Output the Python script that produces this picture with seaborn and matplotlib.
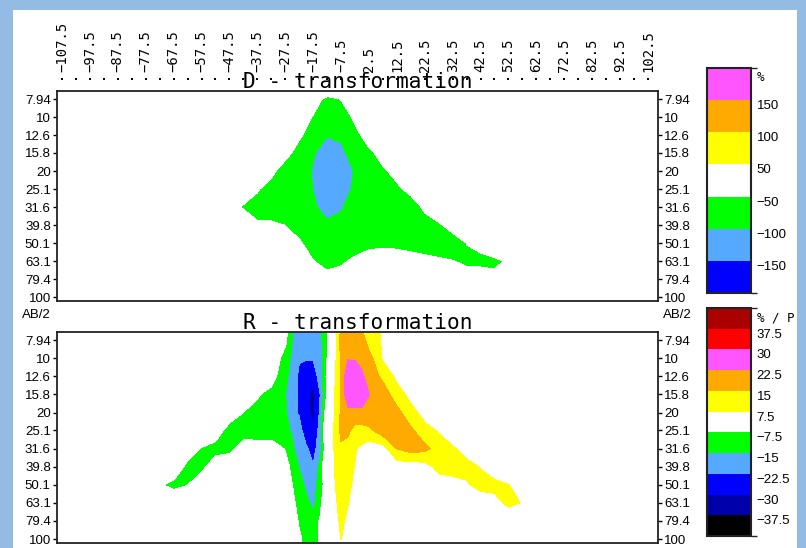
import numpy as np
import matplotlib
matplotlib.use('Agg')
import matplotlib.pyplot as plt
import seaborn as sns
from matplotlib.colors import ListedColormap, BoundaryNorm
from matplotlib.cm import ScalarMappable
from matplotlib.patches import Rectangle
from matplotlib.ticker import NullLocator

# ---------------------------------------------------------------|
# data
# ---------------------------------------------------------------|
# AB/2 rows (first and last row sit just outside the shown range)
ab2 = [7.08, 7.94, 10, 12.6, 15.8, 20, 25.1, 31.6, 39.8, 50.1, 63.1, 79.4, 100, 105.9]
ab2_ticks = [7.94, 10, 12.6, 15.8, 20, 25.1, 31.6, 39.8, 50.1, 63.1, 79.4, 100]
ab2_labels = ['7.94', '10', '12.6', '15.8', '20', '25.1', '31.6', '39.8', '50.1', '63.1', '79.4', '100']

# profile positions written over the top section
pos_major = [-107.5, -97.5, -87.5, -77.5, -67.5, -57.5, -47.5, -37.5, -27.5, -17.5, -7.5,
             2.5, 12.5, 22.5, 32.5, 42.5, 52.5, 62.5, 72.5, 82.5, 92.5, 102.5]
pos_labels = ['\u2212107.5', '\u221297.5', '\u221287.5', '\u221277.5', '\u221267.5', '\u221257.5',
              '\u221247.5', '\u221237.5', '\u221227.5', '\u221217.5', '\u22127.5',
              '2.5', '12.5', '22.5', '32.5', '42.5', '52.5', '62.5', '72.5', '82.5', '92.5', '102.5']
pos_minor = [-102.5, -92.5, -82.5, -72.5, -62.5, -52.5, -42.5, -32.5, -22.5, -12.5, -2.5,
             7.5, 17.5, 27.5, 37.5, 47.5, 57.5, 67.5, 77.5, 87.5, 97.5, 107.5]

# D - transformation, % (columns -52.5 ... 57.5 step 5)
d_x = [-52.5, -47.5, -42.5, -37.5, -32.5, -27.5, -22.5, -17.5, -12.5, -7.5, -2.5, 2.5,
       7.5, 12.5, 17.5, 22.5, 27.5, 32.5, 37.5, 42.5, 47.5, 52.5, 57.5]
d_pct = [
    [0] * 23,
    [0, 0, 0, 0, 0, 0, 0, -15, -70, -48, -20, 0, 0, 0, 0, 0, 0, 0, 0, 0, 0, 0, 0],
    [0, 0, 0, 0, 0, 0, -12, -55, -85, -80, -40, 0, 0, 0, 0, 0, 0, 0, 0, 0, 0, 0, 0],
    [0, 0, 0, 0, 0, -10, -40, -80, -98, -90, -65, -28, 0, 0, 0, 0, 0, 0, 0, 0, 0, 0, 0],
    [0, 0, 0, 0, -5, -28, -75, -95, -125, -115, -71, -60, -32, 0, 0, 0, 0, 0, 0, 0, 0, 0, 0],
    [0, 0, 0, -8, -33, -85, -60, -106, -135, -130, -96, -80, -58, -35, 0, 0, 0, 0, 0, 0, 0, 0, 0],
    [0, 0, -15, -43, -80, -85, -73, -101, -135, -130, -88, -80, -70, -60, -34, 0, 0, 0, 0, 0, 0, 0, 0],
    [0, -31, -56, -80, -85, -90, -85, -92, -120, -105, -77, -80, -82, -82, -80, -39, 0, 0, 0, 0, 0, 0, 0],
    [0, 0, 0, -38, -38, -51, -70, -85, -90, -85, -80, -80, -80, -80, -80, -75, -60, -22, 0, 0, 0, 0, 0],
    [0, 0, 0, -5, -15, -30, -43, -75, -85, -85, -73, -66, -62, -64, -67, -66, -68, -87, -49, -39, -30, 0, 0],
    [0, 0, 0, 0, 0, -10, -30, -48, -75, -58, -40, -20, -15, -20, -30, -40, -45, -48, -60, -60, -55, -47, -5],
    [0, 0, 0, 0, 0, 0, 0, 0, -23, -25, 0, 0, 0, 0, 0, 0, 0, 0, -24, -27, -43, -20, 0],
    [0] * 23,
    [0] * 23,
]

# R - transformation, % / P
r_x = [-77.5, -72.5, -67.5, -62.5, -57.5, -52.5, -47.5, -42.5, -37.5, -32.5, -27.5,
       -25, -22.5, -20, -17.5, -15, -12.5, -10, -7.5, -5, -2.5, 0, 2.5,
       7.5, 12.5, 17.5, 22.5, 27.5, 32.5, 37.5, 42.5, 47.5, 52.5, 57.5, 62.5]
r_pct = [
    [0, 0, 0, 0, 0, 0, 0, 0, 0, -2, -5,
     -14.8, -17, -19, -20, -17.3, -8.8, 1.3, 17.3, 20, 20, 15.1, 12,
     6.3, 3, 0, 0, 0, 0, 0, 0, 0, 0, 0, 0],
    [0, 0, 0, 0, 0, 0, 0, 0, 0, -3, -5,
     -14.9, -18, -20, -21, -17.3, -8.6, 1.5, 17.5, 21, 21, 19, 11.2,
     6.8, 3, 0, 0, 0, 0, 0, 0, 0, 0, 0, 0],
    [0, 0, 0, 0, 0, 0, 0, 0, 0, 1, -12,
     -16, -21.5, -22, -22, -20, -7.4, 3.7, 16.9, 22, 22, 20, 18.5,
     6.4, 3, 0, 0, 0, 0, 0, 0, 0, 0, 0, 0],
    [0, 0, 0, 0, 0, 0, 0, 0, 0, -2.9, -14.7,
     -15.4, -25, -27, -27, -19.2, -5.3, 5.1, 16.6, 28, 27, 24, 19,
     13.4, 5.6, 2, 0, 0, 0, 0, 0, 0, 0, 0, 0],
    [0, 0, 0, 0, 0, 0, 0, -2, -6.3, -11, -14.9,
     -16.7, -25.1, -28, -33, -22.6, -6, 6.8, 16.3, 28, 28, 27, 22.6,
     19, 11, 4.9, 2, 0, 0, 0, 0, 0, 0, 0, 0],
    [0, 0, 0, 0, 0, 0, -3, -7.6, -11, -12, -13.1,
     -21.4, -23, -27, -32.5, -21, -1, 7.2, 16.3, 20, 20, 20.5, 21,
     20, 17.5, 10.4, 4.6, 2, 0, 0, 0, 0, 0, 0, 0],
    [0, 0, 0, 0, 0, -3, -11, -11, -12, -12, -13,
     -15.9, -20, -26.1, -29, -19.3, 5.8, 7.8, 17, 16.5, 12.3, 12, 13,
     19.3, 18, 16.5, 10.25, 6.7, 2, 0, 0, 0, 0, 0, 0],
    [0, 0, 0, -3, -8, -10.6, -10, -3.9, -3, -3, -8,
     -13, -20.7, -21.5, -25.2, -18.6, 0, 7.6, 13.5, 12, 8, 6, 3,
     4, 15.2, 18, 17, 12, 8.5, 4.3, 2, 0, 0, 0, 0],
    [0, 0, -0.7, -10, -10, -2.2, 0, 0, 0, 0, -3,
     -10.4, -15.3, -19, -22, -12.5, 2, 7.3, 10, 9, 7.3, 4, 2,
     3, 3, 3, 4, 10.1, 11, 10, 7.1, 3, 0, 0, 0],
    [0, -6.6, -10, -7.7, -1, 0, 0, 0, 0, 0, -2,
     -7.4, -12, -16.5, -17, -13, 0, 7.2, 9, 8.5, 6.5, 3, 2,
     2, 2, 2, 2, 3, 4, 6.5, 10.2, 9.5, 7.7, 2, 0],
    [0, 0, 0, 0, 0, 0, 0, 0, 0, 0, 0,
     -5, -10.8, -13, -17, -9.5, 0, 4, 12.1, 7.8, 4, 2, 0,
     0, 0, 0, 0, 0, 0, 0, 2, 5, 9, 7.2, 2],
    [0, 0, 0, 0, 0, 0, 0, 0, 0, 0, 0,
     -3, -8.4, -11, -12, -6.6, 0, 3, 9.5, 5.5, 2, 0, 0,
     0, 0, 0, 0, 0, 0, 0, 0, 0, 2, 0, 0],
    [0, 0, 0, 0, 0, 0, 0, 0, 0, 0, 0,
     0, -6, -10, -10, -6.5, 0, 2, 7.7, 3, 0, 0, 0,
     0, 0, 0, 0, 0, 0, 0, 0, 0, 0, 0, 0],
    [0, 0, 0, 0, 0, 0, 0, 0, 0, 0, 0,
     0, -6, -10, -10, -6.5, 0, 2, 5, 2, 0, 0, 0,
     0, 0, 0, 0, 0, 0, 0, 0, 0, 0, 0, 0],
]

# colour classes
d_bounds = [-200, -150, -100, -50, 50, 100, 150, 200]
d_colors = ['#0000ff', '#55aaff', '#00ff00', '#ffffff', '#ffff00', '#ffaa00', '#ff55ff']
d_ticks = [-150, -100, -50, 50, 100, 150]
d_ticklabels = ['\u2212150', '\u2212100', '\u221250', '50', '100', '150']

r_bounds = [-45, -37.5, -30, -22.5, -15, -7.5, 7.5, 15, 22.5, 30, 37.5, 45]
r_colors = ['#000000', '#0000aa', '#0000ff', '#55aaff', '#00ff00', '#ffffff',
            '#ffff00', '#ffaa00', '#ff55ff', '#ff0000', '#aa0000']
r_ticks = [-37.5, -30, -22.5, -15, -7.5, 7.5, 15, 22.5, 30, 37.5]
r_ticklabels = ['\u221237.5', '\u221230', '\u221222.5', '\u221215', '\u22127.5',
                '7.5', '15', '22.5', '30', '37.5']

# ---------------------------------------------------------------|
# style
# ---------------------------------------------------------------|
sns.set_theme(style='white')
plt.rcParams['font.family'] = ['Liberation Sans', 'DejaVu Sans']
MONO = ['DejaVu Sans Mono']

W, H = 806, 548
fig = plt.figure(figsize=(W / 100, H / 100), dpi=100)
fig.patch.set_facecolor('#93bbe3')
fig.patches.append(Rectangle((13 / W, 0), 784 / W, 538 / H, transform=fig.transFigure,
                             facecolor='white', edgecolor='none', zorder=-10))


def px_box(x0, y0, x1, y1):
    return [x0 / W, 1 - y1 / H, (x1 - x0) / W, (y1 - y0) / H]


ax_d = fig.add_axes(px_box(57, 91, 658, 301))
ax_r = fig.add_axes(px_box(57, 332, 658, 543))
cax_d = fig.add_axes(px_box(707, 68, 751, 293))
cax_r = fig.add_axes(px_box(707, 308, 751, 536))


def pad_edges(x, z):
    # zero columns far outside the profile
    xx = [-112.5] + list(x) + [112.5]
    zz = np.pad(np.array(z, dtype=float), ((0, 0), (1, 1)))
    return xx, zz


def draw_section(ax, x, z, bounds, colors, title):
    xx, zz = pad_edges(x, z)
    ax.set_yscale('log')
    ax.contourf(xx, ab2, zz, levels=bounds, colors=sns.color_palette(colors), antialiased=False)
    ax.set_xlim(-109.3, 106.1)
    ax.set_ylim(105.2, 7.16)
    ax.set_yticks(ab2_ticks, labels=ab2_labels)
    ax.yaxis.set_minor_locator(NullLocator())
    ax.set_xticks([])
    ax.tick_params(axis='y', which='major', left=True, right=True, labelleft=True,
                   labelright=True, direction='out', length=3, width=1, pad=1.5,
                   labelsize=9.5, colors='black')
    for s in ax.spines.values():
        s.set_linewidth(1.3)
        s.set_color('#222222')
    ax.text(0.5, 1.09, title, transform=ax.transAxes, ha='center', va='top',
            family=MONO, fontsize=15.2, color='black')


def draw_key(cax, bounds, colors, ticks, labels, unit):
    cmap = ListedColormap(sns.color_palette(colors))
    norm = BoundaryNorm(bounds, cmap.N)
    cb = fig.colorbar(ScalarMappable(norm=norm, cmap=cmap), cax=cax, ticks=ticks,
                      spacing='uniform')
    cb.set_ticklabels(labels)
    cax.tick_params(length=0, pad=4, labelsize=9.5, colors='black')
    cb.outline.set_linewidth(1.5)
    cb.outline.set_edgecolor('#222222')
    plt.setp(cax.get_yticklabels(), va='top')
    cax.text(1.14, 0.985, unit, transform=cax.transAxes, ha='left', va='top',
             family=MONO, fontsize=9, color='black')


draw_section(ax_d, d_x, d_pct, d_bounds, d_colors, 'D - transformation')
draw_section(ax_r, r_x, r_pct, r_bounds, r_colors, 'R - transformation')
draw_key(cax_d, d_bounds, d_colors, d_ticks, d_ticklabels, '%')
draw_key(cax_r, r_bounds, r_colors, r_ticks, r_ticklabels, '% / P')

# position labels above the top section
top = ax_d.secondary_xaxis(1.05)
top.set_xticks(pos_major, labels=pos_labels)
top.set_xticks(pos_minor, minor=True)
top.tick_params(axis='x', which='both', direction='out', length=1.4, width=1.4,
                pad=5, colors='black')
top.tick_params(axis='x', which='major', labelrotation=90, labelsize=10,
                labelfontfamily='DejaVu Sans Mono')
for s in top.spines.values():
    s.set_visible(False)

fig.text(51 / W, 1 - 315 / H, 'AB/2', ha='right', va='center', fontsize=9.5, color='black')
fig.text(663 / W, 1 - 315 / H, 'AB/2', ha='left', va='center', fontsize=9.5, color='black')

fig.savefig('out.png', dpi=100, facecolor=fig.get_facecolor())
